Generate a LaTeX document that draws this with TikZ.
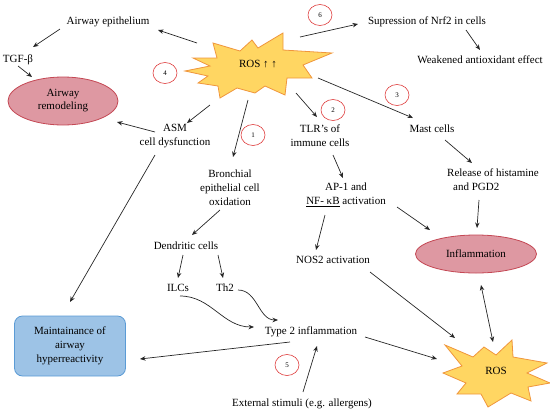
\documentclass[tikz,border=0pt]{standalone}
\usepackage{fontspec}
\setmainfont{Liberation Serif}
\usetikzlibrary{arrows.meta,positioning,calc,shapes.geometric}
\definecolor{burstfill}{RGB}{255,214,98}
\definecolor{burstline}{RGB}{240,150,60}
\definecolor{pinkfill}{RGB}{222,152,162}
\definecolor{pinkline}{RGB}{196,72,84}
\definecolor{bluefill}{RGB}{157,195,230}
\definecolor{blueline}{RGB}{91,155,213}
\definecolor{numred}{RGB}{222,60,60}
\tikzset{
  >={Stealth[length=5.5pt,width=4.5pt]},
  txt/.style={align=center, inner sep=1pt, font=\fontsize{11}{14}\selectfont},
  oval/.style={ellipse, draw=pinkline, fill=pinkfill, line width=0.8pt,
               align=center, inner sep=0pt, font=\fontsize{11}{13}\selectfont},
  bluebox/.style={draw=blueline, fill=bluefill, rounded corners=8pt, line width=0.8pt,
                  align=center, minimum width=111pt, minimum height=60pt,
                  font=\fontsize{11}{14}\selectfont},
  burst/.style={draw=burstline, fill=burstfill, line width=0.8pt, line join=miter},
  num/.style={ellipse, draw=numred, line width=0.6pt, minimum width=24pt,
              minimum height=21pt, inner sep=0pt, font=\fontsize{7}{8}\selectfont},
  arr/.style={->, line width=0.7pt, draw=black!85},
  dblarr/.style={<->, line width=0.7pt, draw=black!85},
}

\begin{document}
\begin{tikzpicture}[x=1pt, y=-1pt]
  \useasboundingbox (0,0) rectangle (550,416);
  % explosions
  \draw[burst] (185,71) -- (210,66) -- (193,58) -- (217,58) -- (213,43) -- (240,51)
    -- (252,40) -- (258,48) -- (283,33) -- (283,50) -- (332,53) -- (303,65)
    -- (312,78) -- (287,78) -- (285,95) -- (265,86) -- (255,93) -- (237,88)
    -- (220,98) -- (218,86) -- (198,83) -- (208,76) -- cycle;
  \draw[burst] (445,345) -- (473,357) -- (484,347) -- (496,355) -- (512,340)
    -- (513,357) -- (547,363) -- (527,373) -- (550,383) -- (528,387)
    -- (531,401) -- (511,393) -- (488,407) -- (481,394) -- (457,394)
    -- (466,383) -- (443,373) -- (462,366) -- cycle;

  % nodes
  \node[txt] (ros1) at (258,64) {ROS ↑ ↑};
  \node[txt] (ros2) at (496,371) {ROS};
  \node[txt] (epi) at (108,22) {Airway epithelium};
  \node[txt] (tgf) at (18,60) {TGF-β};
  \node[oval, minimum width=110pt, minimum height=48pt] (remodel) at (63,101) {Airway\\remodeling};
  \node[txt] (asm) at (175,136) {ASM\\cell dysfunction};
  \node[txt] (bronch) at (230,188) {Bronchial\\epithelial cell\\oxidation};
  \node[txt] (dend) at (186,246) {Dendritic cells};
  \node[txt] (ilcs) at (178,288) {ILCs};
  \node[txt] (th2) at (225,288) {Th2};
  \node[txt] (type2) at (311,332) {Type 2 inflammation};
  \node[bluebox] (maint) at (70,346) {Maintainance of\\airway\\hyperreactivity};
  \node[txt] (ext) at (302,404) {External stimuli (e.g. allergens)};
  \node[txt] (supp) at (427,22) {Supression of Nrf2 in cells};
  \node[txt] (weak) at (480,60) {Weakened antioxidant effect};
  \node[txt] (tlr) at (320,136) {TLR’s of\\immune cells};
  \node[txt] (mast) at (432,129) {Mast cells};
  \node[txt, align=left] (release) at (493,180) {Release of histamine\\\hspace{6pt}and PGD2};
  \node[txt] (ap1) at (346,195) {AP-1 and\\\underline{NF- κB} activation};
  \node[txt] (nos2) at (333,260) {NOS2 activation};
  \node[oval, minimum width=121pt, minimum height=38pt] (infl) at (476,254) {Inflammation};

  % numbers
  \node[num] (n1) at (253,135) {1};
  \node[num] (n2) at (333,110) {2};
  \node[num] (n3) at (397,95) {3};
  \node[num] (n4) at (165,73) {4};
  \node[num] (n5) at (287,365) {5};
  \node[num] (n6) at (320,15) {6};

  % connectors
  \draw[arr] ($(ros1)+(-61,-21)$) -- ($(epi)+(50,8)$);
  \draw[arr] ($(epi)+(-48,7)$) -- ($(tgf)+(15,-13)$);
  \draw[arr] ($(tgf)+(0,6)$) -- ($(remodel)+(-31,-24)$);
  \draw[arr] ($(ros1)+(-48,41)$) -- ($(asm)+(12,-13)$);
  \draw[arr] ($(asm)+(-20,-4)$) -- ($(remodel)+(54,21)$);
  \draw[arr] ($(asm)+(-20,19)$) -- ($(maint)+(0,-44)$);
  \draw[arr] ($(ros1)+(-10,36)$) -- ($(bronch)+(3,-31)$);
  \draw[arr] ($(ros1)+(38,29)$) -- ($(tlr)+(-3,-19)$);
  \draw[arr] ($(ros1)+(60,14)$) -- ($(mast)+(-19,-11)$);
  \draw[arr] ($(ros1)+(42,-27)$) -- ($(supp)+(-69,2)$);
  \draw[arr] ($(supp)+(39,8)$) -- ($(weak)+(0,-10)$);
  \draw[arr] ($(mast)+(13,11)$) -- ($(release)+(-21,-17)$);
  \draw[arr] ($(release)+(-14,20)$) -- ($(infl)+(1,-26)$);
  \draw[arr] ($(tlr)+(13,19)$) -- ($(ap1)+(-3,-17)$);
  \draw[arr] ($(ap1)+(51,12)$) -- ($(infl)+(-46,-24)$);
  \draw[arr] ($(ap1)+(-21,20)$) -- ($(nos2)+(-17,-10)$);
  \draw[arr] ($(nos2)+(37,12)$) -- ($(ros2)+(-41,-33)$);
  \draw[dblarr] ($(infl)+(5,31)$) -- ($(ros2)+(-3,-29)$);
  \draw[arr] ($(bronch)+(-10,22)$) -- ($(dend)+(6,-11)$);
  \draw[arr] ($(dend)+(-3,9)$) -- ($(ilcs)+(0,-10)$);
  \draw[arr] ($(dend)+(32,9)$) -- ($(th2)+(-2,-10)$);
  \draw[arr] ($(ilcs)+(2,8)$) to[out=0, in=180] ($(type2)+(-57,-5)$);
  \draw[arr] ($(th2)+(13,2)$) to[out=0, in=180] ($(type2)+(-33,-12)$);
  \draw[arr] ($(type2)+(-21,10)$) -- ($(maint)+(70,13)$);
  \draw[arr] ($(ext)+(1,-12)$) -- ($(type2)+(6,14)$);
  \draw[arr] ($(type2)+(54,5)$) -- ($(ros2)+(-59,-12)$);
\end{tikzpicture}
\end{document}
